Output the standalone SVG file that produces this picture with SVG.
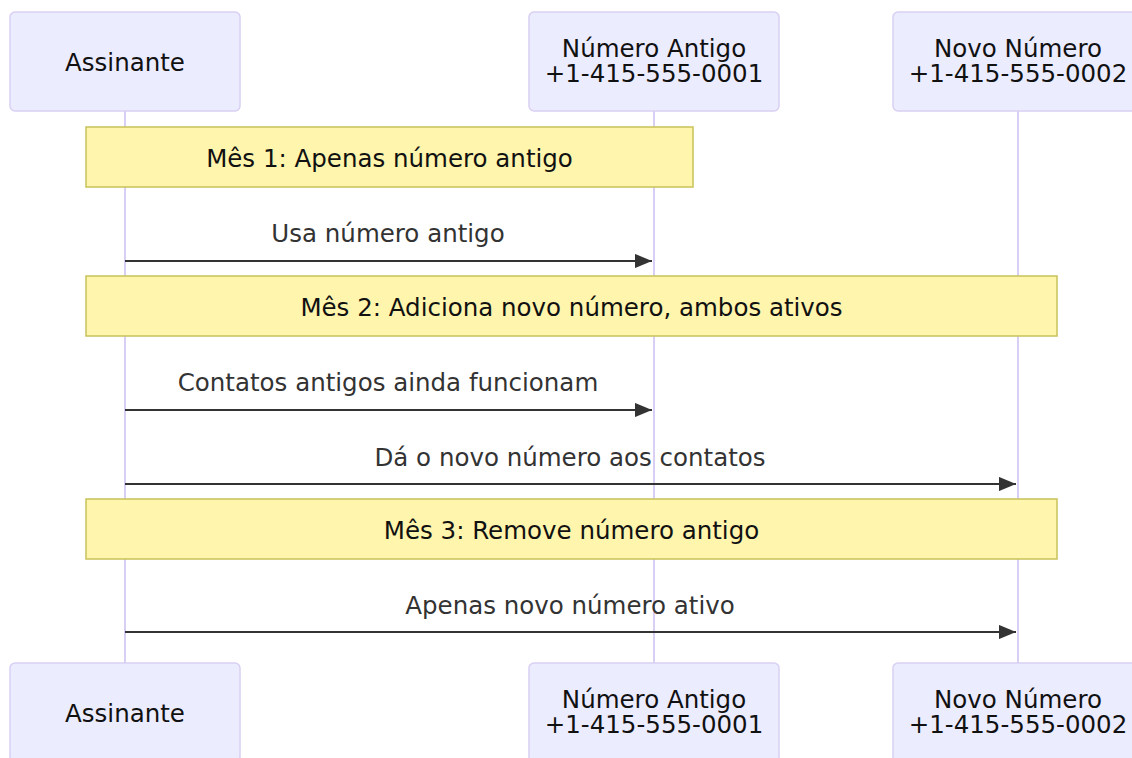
<svg xmlns="http://www.w3.org/2000/svg" width="1132" height="758" viewBox="0 0 1132 758">
<defs>
<style>
.actor{fill:#ECECFF;stroke:#D9CFF4;stroke-width:1.5}
.life{stroke:#D9CFF4;stroke-width:2;fill:none}
.atext{font-family:"DejaVu Sans",sans-serif;font-size:24.5px;fill:#111;text-anchor:middle;dominant-baseline:central}
.note{fill:#FFF5AD;stroke:#C9C25A;stroke-width:1.5}
.ntext{font-family:"DejaVu Sans",sans-serif;font-size:24.5px;fill:#111;text-anchor:middle;dominant-baseline:central}
.msg{stroke:#333;stroke-width:2;fill:none;marker-end:url(#arrow)}
.mtext{font-family:"DejaVu Sans",sans-serif;font-size:24.5px;fill:#333;text-anchor:middle;dominant-baseline:central}
</style>
<marker id="arrow" viewBox="0 0 12 10" refX="12" refY="5" markerWidth="8.5" markerHeight="7.2" markerUnits="strokeWidth" orient="auto">
<path d="M0,0 L12,5 L0,10 z" fill="#333"/>
</marker>
</defs>
<rect width="1132" height="758" fill="#fff"/>
<g id="lifelines">
<line class="life" x1="125" y1="111" x2="125" y2="663"/>
<line class="life" x1="654" y1="111" x2="654" y2="663"/>
<line class="life" x1="1018" y1="111" x2="1018" y2="663"/>
</g>
<g id="actor-assinante-top">
<rect class="actor" x="10" y="12" width="230" height="99" rx="5"/>
<text class="atext" x="125" y="62">Assinante</text>
</g>
<g id="actor-antigo-top">
<rect class="actor" x="529" y="12" width="250" height="99" rx="5"/>
<text class="atext" x="654" y="48"><tspan x="654" y="48">Número Antigo</tspan><tspan x="654" y="73">+1-415-555-0001</tspan></text>
</g>
<g id="actor-novo-top">
<rect class="actor" x="893" y="12" width="250" height="99" rx="5"/>
<text class="atext" x="1018" y="48"><tspan x="1018" y="48">Novo Número</tspan><tspan x="1018" y="73">+1-415-555-0002</tspan></text>
</g>
<g id="note-1">
<rect class="note" x="86" y="127" width="607" height="60"/>
<text class="ntext" x="389.5" y="158">Mês 1: Apenas número antigo</text>
</g>
<g id="note-2">
<rect class="note" x="86" y="276" width="971" height="60"/>
<text class="ntext" x="571.5" y="307">Mês 2: Adiciona novo número, ambos ativos</text>
</g>
<g id="note-3">
<rect class="note" x="86" y="499" width="971" height="60"/>
<text class="ntext" x="571.5" y="530">Mês 3: Remove número antigo</text>
</g>
<g id="connectors">
<line class="msg" x1="125" y1="261" x2="652" y2="261"/>
<text class="mtext" x="388" y="233">Usa número antigo</text>
<line class="msg" x1="125" y1="410" x2="652" y2="410"/>
<text class="mtext" x="388" y="382">Contatos antigos ainda funcionam</text>
<line class="msg" x1="125" y1="484" x2="1016" y2="484"/>
<text class="mtext" x="570" y="457">Dá o novo número aos contatos</text>
<line class="msg" x1="125" y1="632" x2="1016" y2="632"/>
<text class="mtext" x="570" y="605">Apenas novo número ativo</text>
</g>
<g id="actor-assinante-bottom">
<rect class="actor" x="10" y="663" width="230" height="99" rx="5"/>
<text class="atext" x="125" y="713">Assinante</text>
</g>
<g id="actor-antigo-bottom">
<rect class="actor" x="529" y="663" width="250" height="99" rx="5"/>
<text class="atext" x="654" y="699"><tspan x="654" y="699">Número Antigo</tspan><tspan x="654" y="724">+1-415-555-0001</tspan></text>
</g>
<g id="actor-novo-bottom">
<rect class="actor" x="893" y="663" width="250" height="99" rx="5"/>
<text class="atext" x="1018" y="699"><tspan x="1018" y="699">Novo Número</tspan><tspan x="1018" y="724">+1-415-555-0002</tspan></text>
</g>
</svg>
